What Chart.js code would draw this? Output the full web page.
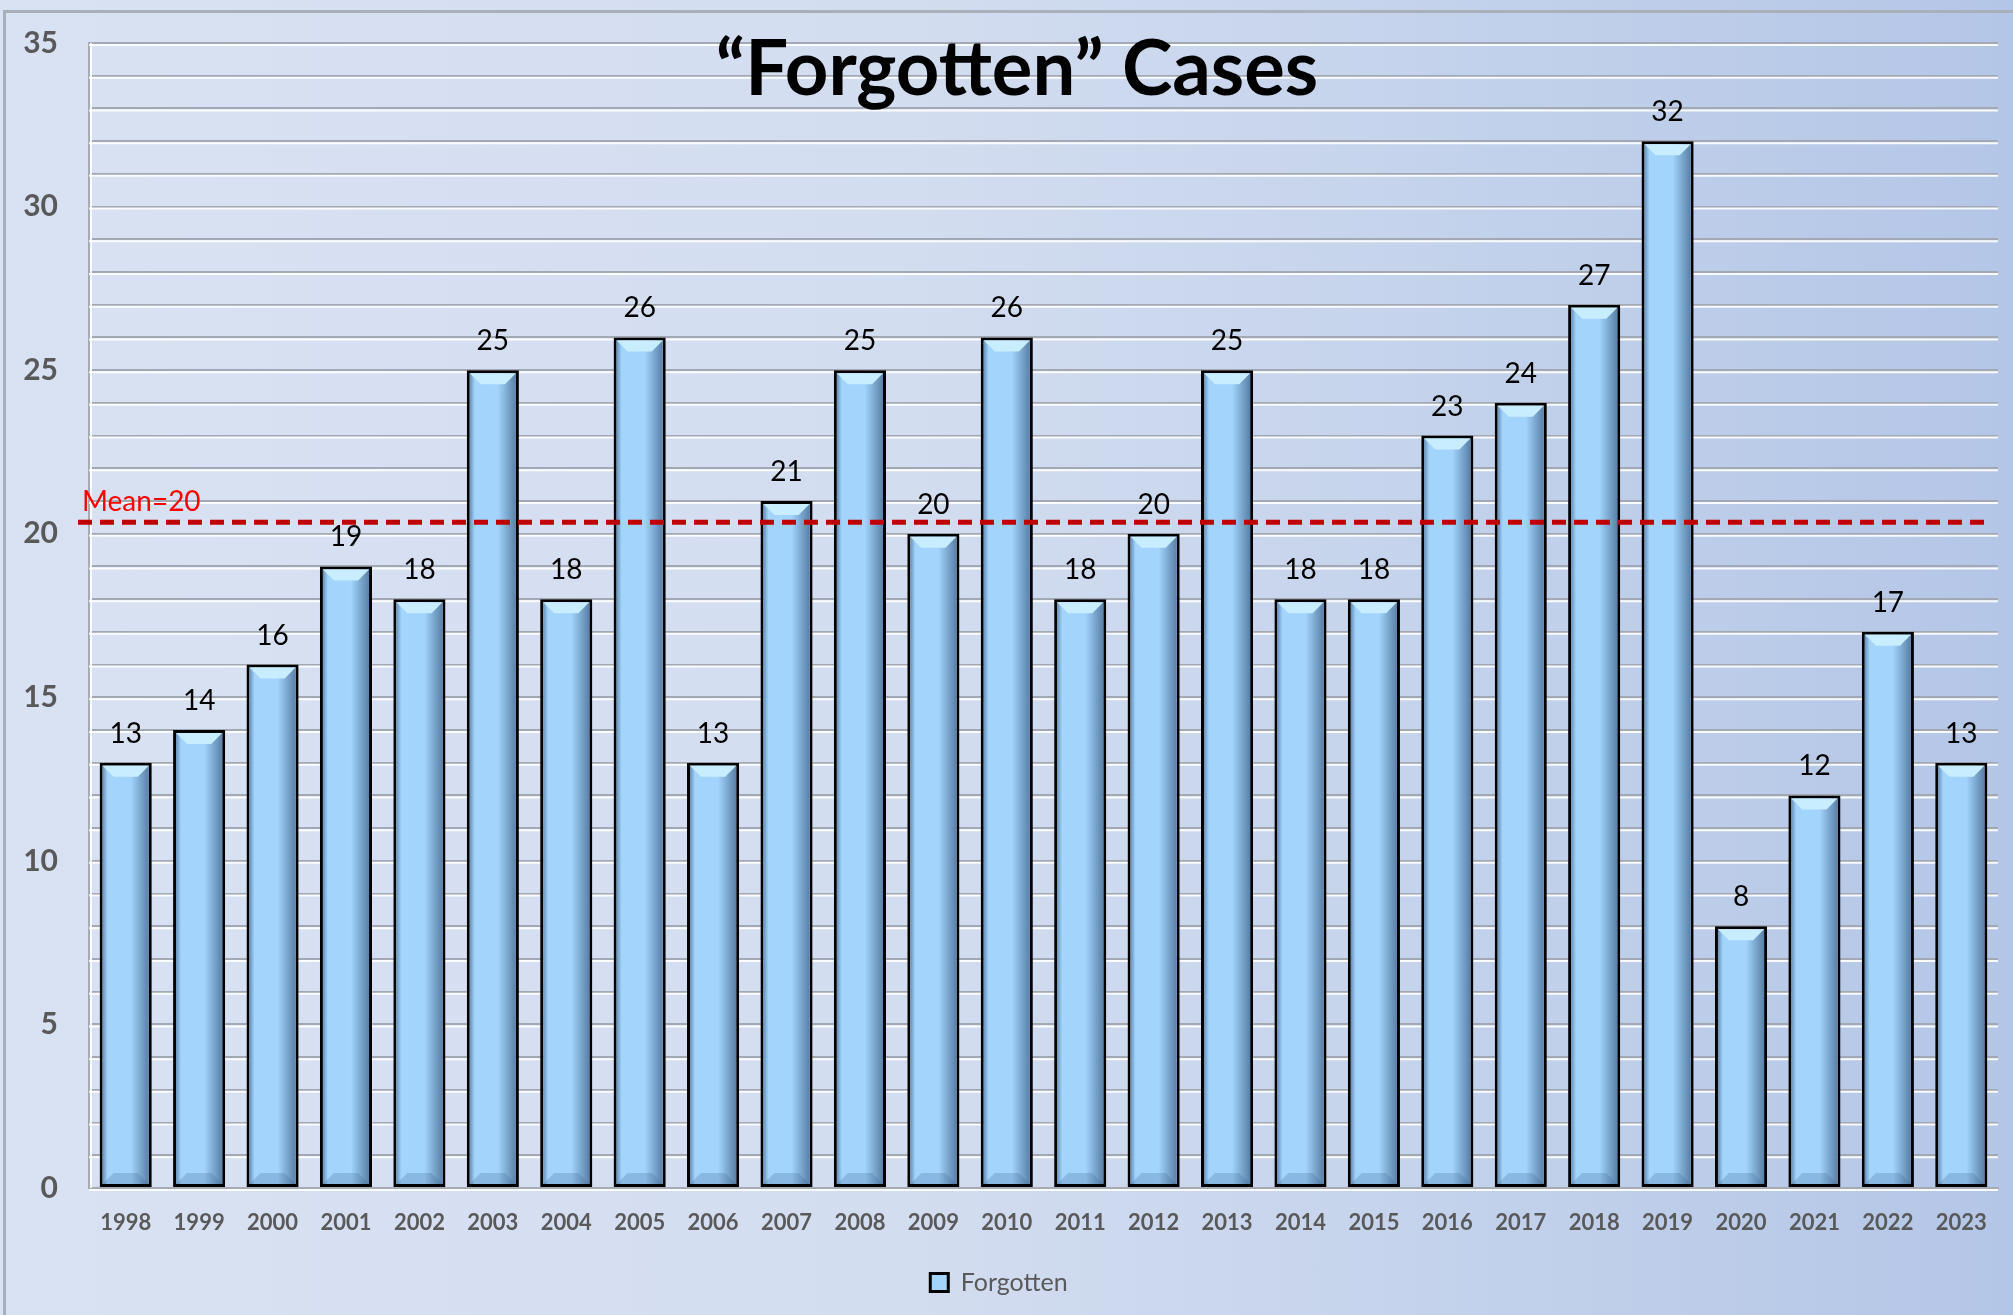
<!DOCTYPE html>
<html>
<head>
<meta charset="utf-8">
<script src="https://cdn.jsdelivr.net/npm/chart.js@4.4.1/dist/chart.umd.min.js"></script>
<style>
  html, body { margin: 0; padding: 0; }
  body {
    width: 2013px; height: 1315px; overflow: hidden; position: relative;
    background: linear-gradient(90deg, #d9e2f3 0%, #d3ddf0 45%, #bfcfea 80%, #b4c6e7 100%);
  }
  #frame {
    position: absolute; left: 3px; top: 10px; width: 2100px; height: 1400px;
    border-left: 3px solid #aab0ba; border-top: 3px solid #aab0ba;
  }
  #chart { position: absolute; left: 0; top: 0; }
</style>
</head>
<body>
<div id="frame"></div>
<canvas id="chart" width="2013" height="1315"></canvas>
<script>
// chart data
const years = ['1998','1999','2000','2001','2002','2003','2004','2005','2006','2007','2008','2009','2010',
               '2011','2012','2013','2014','2015','2016','2017','2018','2019','2020','2021','2022','2023'];
const forgotten = [13, 14, 16, 19, 18, 25, 18, 26, 13, 21, 25, 20, 26,
                   18, 20, 25, 18, 18, 23, 24, 27, 32, 8, 12, 17, 13];
const yTickLabels = [0, 5, 10, 15, 20, 25, 30, 35];
const meanValue = 20.35;
const meanLabel = 'Mean=20';
const chartTitle = '\u201CForgotten\u201D Cases';

const barFill = '#a2d4fc';

// grid lines get a white line under each one (3D look)
const gridShadow = {
  id: 'gridShadow',
  beforeDatasetsDraw(chart) {
    const { ctx, chartArea, scales } = chart;
    ctx.save();
    ctx.strokeStyle = 'rgba(255,255,255,0.9)';
    ctx.lineWidth = 2;
    scales.y.ticks.forEach(t => {
      const y = scales.y.getPixelForValue(t.value) + 2;
      ctx.beginPath();
      ctx.moveTo(chartArea.left, y);
      ctx.lineTo(chartArea.right, y);
      ctx.stroke();
    });
    ctx.beginPath();
    ctx.moveTo(chartArea.left + 2, chartArea.top);
    ctx.lineTo(chartArea.left + 2, chartArea.bottom);
    ctx.stroke();
    ctx.restore();
  }
};

// bevel on every bar + value labels + mean line + title
const decorations = {
  id: 'decorations',
  afterDatasetsDraw(chart) {
    const { ctx, chartArea, scales } = chart;
    const meta = chart.getDatasetMeta(0);
    ctx.save();
    meta.data.forEach((bar, i) => {
      const p = bar.getProps(['x', 'y', 'base', 'width'], true);
      const il = p.x - p.width / 2 + 3, ir = p.x + p.width / 2 - 3;
      const it = p.y + 3, ib = p.base - 3;
      const bv = 11;
      // right side shade
      let g = ctx.createLinearGradient(ir - 18, 0, ir, 0);
      g.addColorStop(0, 'rgba(30,60,100,0)');
      g.addColorStop(1, 'rgba(30,60,100,0.55)');
      ctx.fillStyle = g;
      ctx.fillRect(ir - 18, it, 18, ib - it);
      // left thin shade
      g = ctx.createLinearGradient(il, 0, il + 5, 0);
      g.addColorStop(0, 'rgba(30,60,100,0.45)');
      g.addColorStop(1, 'rgba(30,60,100,0)');
      ctx.fillStyle = g;
      ctx.fillRect(il, it, 5, ib - it);
      // top bevel
      ctx.fillStyle = '#c8edff';
      ctx.beginPath();
      ctx.moveTo(il, it); ctx.lineTo(ir, it);
      ctx.lineTo(ir - bv, it + bv); ctx.lineTo(il + bv, it + bv);
      ctx.closePath(); ctx.fill();
      // bottom bevel
      ctx.fillStyle = 'rgba(50,90,135,0.22)';
      ctx.beginPath();
      ctx.moveTo(il, ib); ctx.lineTo(ir, ib);
      ctx.lineTo(ir - bv, ib - bv); ctx.lineTo(il + bv, ib - bv);
      ctx.closePath(); ctx.fill();

      // value label
      ctx.fillStyle = '#000';
      ctx.font = '28px Lato';
      ctx.textAlign = 'center';
      ctx.textBaseline = 'alphabetic';
      ctx.fillText(String(forgotten[i]), p.x, p.y - 20);
    });

    // mean line
    const my = scales.y.getPixelForValue(meanValue);
    ctx.strokeStyle = '#c00000';
    ctx.lineWidth = 5;
    ctx.setLineDash([14, 8]);
    ctx.beginPath();
    ctx.moveTo(chartArea.left - 11, my);
    ctx.lineTo(chartArea.right - 14, my);
    ctx.stroke();
    ctx.setLineDash([]);
    ctx.fillStyle = '#ff0000';
    ctx.font = '28px Lato';
    ctx.textAlign = 'left';
    ctx.fillText(meanLabel, chartArea.left - 7, my - 11);

    // title
    ctx.fillStyle = '#000';
    ctx.font = 'bold 76px Lato';
    ctx.textAlign = 'center';
    ctx.textBaseline = 'middle';
    ctx.fillText(chartTitle, 1017, 70);
    ctx.restore();
  }
};

const ctx = document.getElementById('chart').getContext('2d');
const chart = new Chart(ctx, {
  type: 'bar',
  data: {
    labels: years,
    datasets: [{
      label: 'Forgotten',
      data: forgotten,
      backgroundColor: barFill,
      borderColor: '#000000',
      borderWidth: 3,
      borderSkipped: false,
      barPercentage: 0.71,
      categoryPercentage: 1.0
    }]
  },
  options: {
    responsive: false,
    animation: false,
    layout: { padding: { top: 43, right: 15, bottom: 10, left: 0 } },
    plugins: {
      tooltip: { enabled: false },
      legend: {
        position: 'bottom',
        labels: {
          color: '#595959',
          font: { family: 'Lato', size: 25 },
          boxWidth: 18,
          boxHeight: 18,
          padding: 10
        }
      }
    },
    scales: {
      x: {
        grid: { display: false },
        border: { display: true, color: '#a6abb3', width: 2 },
        ticks: {
          color: '#595959',
          font: { family: 'Lato', size: 22, weight: 'bold' },
          padding: 14,
          maxRotation: 0,
          autoSkip: false
        },
        afterFit(scale) { scale.height = 72; }
      },
      y: {
        min: 0,
        max: 35,
        grid: { color: '#a3a9b4', lineWidth: 2, drawTicks: false },
        border: { display: true, color: '#a6abb3', width: 2 },
        ticks: {
          stepSize: 1,
          color: '#595959',
          font: { family: 'Lato', size: 30, weight: 'bold' },
          padding: 31,
          autoSkip: false,
          callback: v => yTickLabels.includes(v) ? String(v) : ''
        },
        afterFit(scale) {
          scale.width = 89;
          scale.paddingTop = 0;
          scale.paddingBottom = 0;
        }
      }
    }
  },
  plugins: [gridShadow, decorations]
});
</script>
</body>
</html>
